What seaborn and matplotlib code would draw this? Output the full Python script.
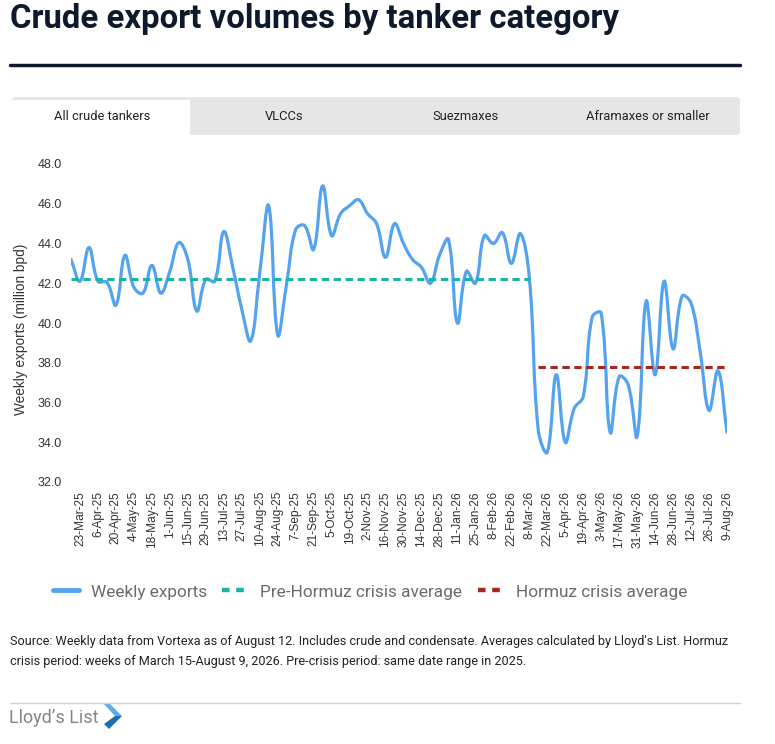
import numpy as np
import pandas as pd
import matplotlib
matplotlib.use('Agg')
import matplotlib.pyplot as plt
import seaborn as sns
from matplotlib.path import Path
from matplotlib.patches import PathPatch, FancyBboxPatch, Rectangle, Polygon
from matplotlib.lines import Line2D

# ------------------------------------------------------------
# Data (weekly, weeks of 16-Mar-25 .. 9-Aug-26)
# ------------------------------------------------------------
tick_labels = [
    '23-Mar-25', '6-Apr-25', '20-Apr-25', '4-May-25', '18-May-25', '1-Jun-25',
    '15-Jun-25', '29-Jun-25', '13-Jul-25', '27-Jul-25', '10-Aug-25', '24-Aug-25',
    '7-Sep-25', '21-Sep-25', '5-Oct-25', '19-Oct-25', '2-Nov-25', '16-Nov-25',
    '30-Nov-25', '14-Dec-25', '28-Dec-25', '11-Jan-26', '25-Jan-26', '8-Feb-26',
    '22-Feb-26', '8-Mar-26', '22-Mar-26', '5-Apr-26', '19-Apr-26', '3-May-26',
    '17-May-26', '31-May-26', '14-Jun-26', '28-Jun-26', '12-Jul-26', '26-Jul-26',
    '9-Aug-26',
]

exports = [
    43.2, 42.1, 43.8, 42.1, 42.05, 40.9, 43.4, 41.8, 41.5, 42.9,
    41.5, 42.6, 44.05, 43.2, 40.6, 42.2, 42.1, 44.6, 42.8, 40.7,
    39.1, 42.5, 45.9, 39.4, 42.0, 44.7, 44.9, 43.7, 46.9, 44.4,
    45.5, 45.9, 46.2, 45.5, 45.0, 43.3, 45.0, 44.0, 43.2, 42.8,
    42.0, 43.4, 44.2, 40.0, 42.6, 42.0, 44.4, 44.0, 44.55, 43.0,
    44.5, 42.3, 34.6, 33.5, 37.4, 34.0, 35.7, 36.3, 40.3, 40.5,
    34.5, 37.3, 36.9, 34.3, 41.1, 37.4, 42.1, 38.7, 41.35, 41.0,
    38.6, 35.6, 37.6, 34.5,
]

pre_avg = 42.2
crisis_avg = 37.8
crisis_start = 52   # week of 15-Mar-26

tabs = ['All crude tankers', 'VLCCs', 'Suezmaxes', 'Aframaxes or smaller']

BLUE = '#55a3ef'
TEAL = '#17b5a3'
RED = '#a8261c'
NAVY = '#0e1a2b'

W, H = 775, 744


def fx(x):
    return x / W


def fy(y):
    return 1 - y / H


def spline_path(xs, ys, tension=0.4, sx=9.0, sy=19.9):
    # bezier curve through every weekly point (chart.js style smoothing)
    px = np.asarray(xs, float) * sx
    py = np.asarray(ys, float) * sy
    n = len(px)
    cps = []
    for i in range(n):
        i0, i2 = max(i - 1, 0), min(i + 1, n - 1)
        d01 = np.hypot(px[i] - px[i0], py[i] - py[i0])
        d12 = np.hypot(px[i2] - px[i], py[i2] - py[i])
        tot = d01 + d12
        fa = tension * (d01 / tot if tot else 0)
        fb = tension * (d12 / tot if tot else 0)
        dx, dy = px[i2] - px[i0], py[i2] - py[i0]
        cps.append(((px[i] - fa * dx, py[i] - fa * dy), (px[i] + fb * dx, py[i] + fb * dy)))
    verts = [(px[0], py[0])]
    codes = [Path.MOVETO]
    for i in range(n - 1):
        verts += [cps[i][1], cps[i + 1][0], (px[i + 1], py[i + 1])]
        codes += [Path.CURVE4] * 3
    verts = np.array(verts) / [sx, sy]
    return Path(verts, codes)


sns.set_theme(style='white')
plt.rcParams['font.family'] = ['Roboto', 'DejaVu Sans']

fig = plt.figure(figsize=(W / 100, H / 100), dpi=100)
fig.patch.set_facecolor('white')

ax = fig.add_axes([fx(71), fy(482), fx(727) - fx(71), fy(164) - fy(482)])

df = pd.DataFrame({'week': np.arange(len(exports)), 'exports': exports})

# weekly exports (smoothed line)
ax.add_patch(PathPatch(spline_path(df['week'], df['exports']), fill=False,
                       edgecolor=BLUE, lw=2.3, capstyle='round', joinstyle='round',
                       zorder=3))

# averages
pre_df = pd.DataFrame({'week': [0, crisis_start - 1], 'value': [pre_avg, pre_avg]})
cri_df = pd.DataFrame({'week': [crisis_start, len(exports) - 1], 'value': [crisis_avg, crisis_avg]})
sns.lineplot(data=pre_df, x='week', y='value', ax=ax, color=TEAL, lw=2.2,
             linestyle=(0, (2.4, 1.5)), zorder=4)
sns.lineplot(data=cri_df, x='week', y='value', ax=ax, color=RED, lw=2.2,
             linestyle=(0, (2.4, 1.5)), zorder=4)

ax.set_xlim(0, len(exports) - 1)
ax.set_ylim(32, 48)
ax.set_xticks(np.arange(1, len(exports), 2))
ax.set_xticklabels(tick_labels, rotation=90, fontsize=8.6, color='#333333',
                   family='Liberation Sans')
yt = np.arange(32, 49, 2)
ax.set_yticks(yt)
ax.set_yticklabels([f'{v:.1f}' for v in yt], fontsize=9, color='#333333',
                   family='Liberation Sans')
ax.tick_params(length=0, axis='x', pad=6.5)
ax.tick_params(length=0, axis='y', pad=6.5)
ax.set_xlabel('')
ax.set_ylabel('Weekly exports (million bpd)', fontsize=9.8, color='#333333',
              family='Liberation Sans')
ax.yaxis.label.set_va('center')
ax.yaxis.set_label_coords((21 - 71) / 656, (482 - 329) / 318)
for s in ax.spines.values():
    s.set_visible(False)
ax.grid(False)

# title + rule
fig.text(fx(10), fy(19), 'Crude export volumes by tanker category', fontsize=23.7,
         fontweight='bold', color=NAVY, va='center', ha='left')
fig.add_artist(Line2D([fx(10), fx(740)], [fy(65), fy(65)], color=NAVY, lw=2.5))

# tabs
fig.add_artist(FancyBboxPatch((fx(12), fy(135)), fx(740) - fx(12), fy(97) - fy(135),
                              boxstyle='round,pad=0,rounding_size=0.004',
                              transform=fig.transFigure, fc='#e6e6e6', ec='none'))
fig.add_artist(Rectangle((fx(12), fy(135)), fx(190) - fx(12), fy(100) - fy(135),
                         transform=fig.transFigure, fc='white', ec='none'))
for k, name in enumerate(tabs):
    fig.text(fx(102 + k * 182), fy(116), name, fontsize=9.3, color='#222222',
             ha='center', va='center')

# legend
handles = [
    Line2D([], [], color=BLUE, lw=3.5),
    Line2D([], [], color=TEAL, lw=3.2, linestyle=(0, (1.7, 1.5))),
    Line2D([], [], color=RED, lw=3.2, linestyle=(0, (1.7, 1.5))),
]
fig.legend(handles, ['Weekly exports', 'Pre-Hormuz crisis average', 'Hormuz crisis average'],
           loc='center', bbox_to_anchor=(fx(370), fy(592)), ncol=3, frameon=False,
           fontsize=12.4, labelcolor='#6b6b6b', handlelength=1.5, handletextpad=0.7,
           columnspacing=0.9)

# source note
fig.text(fx(10), fy(642), "Source: Weekly data from Vortexa as of August 12. Includes crude and "
         "condensate. Averages calculated by Lloyd's List. Hormuz",
         fontsize=9.1, color='#222222', va='center', ha='left')
fig.text(fx(10), fy(661), "crisis period: weeks of March 15-August 9, 2026. Pre-crisis period: "
         "same date range in 2025.",
         fontsize=9.1, color='#222222', va='center', ha='left')

fig.add_artist(Line2D([fx(10), fx(740)], [fy(703), fy(703)], color='#d0d0d0', lw=1))

# logo
fig.text(fx(9), fy(718), 'Lloyd\u2019s List', fontsize=13, color='#858585',
         va='center', ha='left')
fig.add_artist(Polygon([(fx(104), fy(704)), (fx(110), fy(704)), (fx(122), fy(716)),
                        (fx(115), fy(716))], closed=True, transform=fig.transFigure,
                       fc='#5aaee6', ec='none'))
fig.add_artist(Polygon([(fx(115), fy(716)), (fx(122), fy(716)), (fx(109), fy(729)),
                        (fx(104), fy(724))], closed=True, transform=fig.transFigure,
                       fc='#1c6fae', ec='none'))

fig.savefig('out.png', dpi=100, facecolor='white')
